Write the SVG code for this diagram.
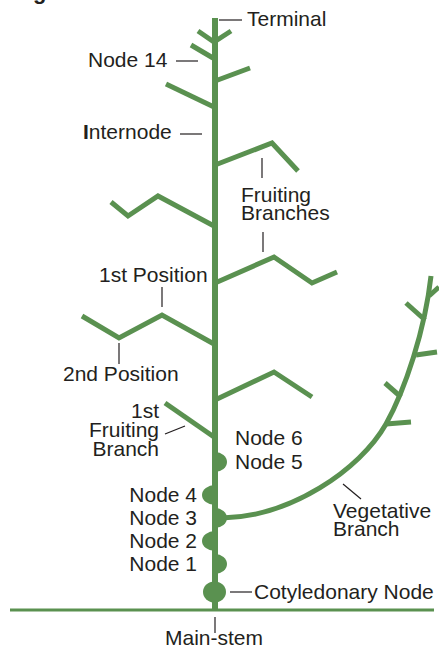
<svg xmlns="http://www.w3.org/2000/svg" width="439" height="650" viewBox="0 0 439 650">
  <style>
    .plant { fill: none; stroke: #5a9150; stroke-width: 5; stroke-linejoin: miter; stroke-linecap: butt; }
    .stem { fill: none; stroke: #5a9150; stroke-width: 6; }
    .node { fill: #5a9150; stroke: none; }
    .lbl { font-family: "Liberation Sans", Arial, Helvetica, sans-serif; font-size: 21px; fill: #231f20; }
    .lead { stroke: #231f20; stroke-width: 1.2; fill: none; }
  </style>

  <!-- heading fragment -->
  <text x="33" y="-1" class="lbl" style="font-weight:bold;font-size:22px">g</text>

  <!-- soil line and main stem -->
  <g id="ground">
    <line x1="10" y1="610" x2="434" y2="610" stroke="#5a9150" stroke-width="3"/>
  </g>
  <g id="main-stem">
    <line x1="215" y1="18" x2="215" y2="610" class="stem"/>
  </g>

  <!-- branches -->
  <g id="connectors">
    <!-- terminal shoots -->
    <polyline class="plant" points="198,31 214,42 231,31"/>
    <line class="plant" x1="191" y1="45" x2="213" y2="58"/>
    <line class="plant" x1="215" y1="81" x2="250" y2="68"/>
    <line class="plant" x1="166" y1="84" x2="214" y2="107"/>
    <!-- fruiting branches -->
    <polyline class="plant" points="215,165 272,143 298,171"/>
    <polyline class="plant" points="111,202 128,216 158,196 214,226"/>
    <polyline class="plant" points="215,283 274,257 312,283 337,272"/>
    <polyline class="plant" points="82,316 119,338 162,315 214,344"/>
    <polyline class="plant" points="215,400 274,372 312,397"/>
    <line class="plant" x1="165" y1="403" x2="214" y2="437"/>
    <!-- vegetative branch -->
    <path class="plant" d="M222,518 C290,517 360,470 386,424 C405,390 425,330 431,276"/>
    <line class="plant" x1="429" y1="296" x2="439" y2="287"/>
    <line class="plant" x1="406" y1="303" x2="425" y2="320"/>
    <line class="plant" x1="416" y1="355" x2="437" y2="352"/>
    <line class="plant" x1="385" y1="383" x2="401" y2="397"/>
    <line class="plant" x1="386" y1="424" x2="411" y2="422"/>
  </g>

  <!-- nodes on the main stem -->
  <g id="node-5"><path class="node" d="M215,452 A12,10 0 0,1 215,472 Z"/></g>
  <g id="node-4"><path class="node" d="M215,485 A13,10 0 0,0 215,505 Z"/></g>
  <g id="node-3"><path class="node" d="M215,508 A12,10 0 0,1 215,528 Z"/></g>
  <g id="node-2"><path class="node" d="M215,531 A13,10 0 0,0 215,551 Z"/></g>
  <g id="node-1"><path class="node" d="M215,554 A12,10 0 0,1 215,574 Z"/></g>
  <g id="cotyledonary-node"><ellipse class="node" cx="214.5" cy="592" rx="11.5" ry="10.5"/></g>

  <!-- labels -->
  <g id="labels">
    <line class="lead" x1="219" y1="20" x2="242" y2="20"/>
    <text class="lbl" x="247" y="26">Terminal</text>

    <line class="lead" x1="176" y1="61" x2="198" y2="61"/>
    <text class="lbl" x="88" y="67">Node 14</text>

    <line class="lead" x1="180" y1="134" x2="202" y2="134"/>
    <text class="lbl" x="83" y="139"><tspan font-weight="bold">I</tspan>nternode</text>

    <line class="lead" x1="262" y1="158" x2="262" y2="178"/>
    <text class="lbl" x="241" y="202">Fruiting</text>
    <text class="lbl" x="241" y="220">Branches</text>
    <line class="lead" x1="263" y1="232" x2="263" y2="252"/>

    <text class="lbl" x="99" y="282">1st Position</text>
    <line class="lead" x1="162" y1="287" x2="162" y2="307"/>

    <line class="lead" x1="119" y1="343" x2="119" y2="364"/>
    <text class="lbl" x="63" y="381">2nd Position</text>

    <text class="lbl" x="159" y="418" text-anchor="end">1st</text>
    <text class="lbl" x="159" y="437" text-anchor="end">Fruiting</text>
    <text class="lbl" x="159" y="456" text-anchor="end">Branch</text>
    <line class="lead" x1="165" y1="434" x2="185" y2="426"/>

    <text class="lbl" x="235" y="445">Node 6</text>
    <text class="lbl" x="235" y="469">Node 5</text>

    <text class="lbl" x="197" y="502" text-anchor="end">Node 4</text>
    <text class="lbl" x="197" y="525" text-anchor="end">Node 3</text>
    <text class="lbl" x="197" y="548" text-anchor="end">Node 2</text>
    <text class="lbl" x="197" y="571" text-anchor="end">Node 1</text>

    <line class="lead" x1="343" y1="484" x2="361" y2="499"/>
    <text class="lbl" x="333" y="518">Vegetative</text>
    <text class="lbl" x="333" y="536">Branch</text>

    <line class="lead" x1="230" y1="592" x2="252" y2="592"/>
    <text class="lbl" x="254" y="599">Cotyledonary Node</text>

    <line class="lead" x1="215" y1="617" x2="215" y2="633"/>
    <text class="lbl" x="214" y="645" text-anchor="middle">Main-stem</text>
  </g>
</svg>
